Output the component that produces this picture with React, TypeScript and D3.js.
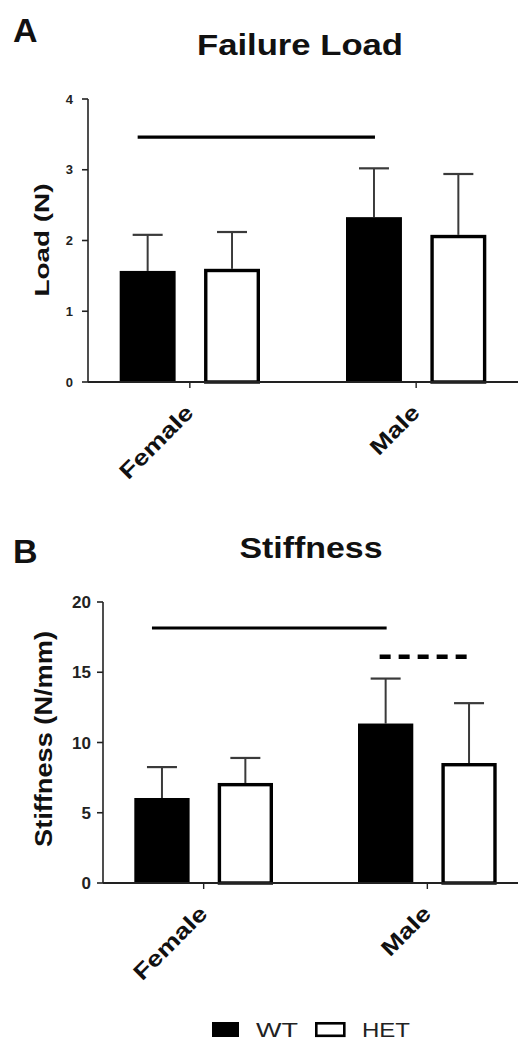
import React from "react";
import * as d3 from "d3";

const groups = ["Female", "Male"];
const series = ["WT", "HET"];

// Panel A: Failure Load (N)
const loadMean = [
  [1.57, 1.6],
  [2.33, 2.08],
];
const loadErr = [
  [0.51, 0.52],
  [0.69, 0.86],
];
const loadTicks = [0, 1, 2, 3, 4];

// Panel B: Stiffness (N/mm)
const stiffMean = [
  [6.05, 7.12],
  [11.35, 8.54],
];
const stiffErr = [
  [2.2, 1.78],
  [3.2, 4.26],
];
const stiffTicks = [0, 5, 10, 15, 20];

// significance bars
const loadSig = [{ g1: 0, s1: 0, g2: 1, s2: 0, v: 3.46, dashed: false }];
const stiffSig = [
  { g1: 0, s1: 0, g2: 1, s2: 0, v: 18.15, dashed: false },
  { g1: 1, s1: 0, g2: 1, s2: 1, v: 16.1, dashed: true },
];

const FONT = "Liberation Sans, Arial, Helvetica, sans-serif";

type PanelProps = {
  letter: string;
  letterY: number;
  title: string;
  titleX: number;
  titleY: number;
  titleSize: number;
  titleLen: number;
  yLabel: string;
  yLabelX: number;
  yLabelY: number;
  yLabelSize: number;
  yLabelLen: number;
  axisX: number;
  xRangeEnd: number;
  top: number;
  bottom: number;
  maxV: number;
  ticks: number[];
  tickSize: number;
  tickLen: number;
  means: number[][];
  errs: number[][];
  sig: { g1: number; s1: number; g2: number; s2: number; v: number; dashed: boolean }[];
  catSize: number;
};

function Panel(p: PanelProps) {
  const x = d3
    .scaleBand<string>()
    .domain(groups)
    .range([p.axisX, p.xRangeEnd])
    .paddingInner(0.38)
    .paddingOuter(0.14);
  const xi = d3
    .scaleBand<string>()
    .domain(series)
    .range([0, x.bandwidth()])
    .paddingInner(0.337)
    .paddingOuter(0);
  const y = d3.scaleLinear().domain([0, p.maxV]).range([p.bottom, p.top]);
  const bw = xi.bandwidth();
  const cx = (g: number, s: number) =>
    (x(groups[g]) as number) + (xi(series[s]) as number) + bw / 2;
  const catLen = { Female: 94, Male: 60 } as Record<string, number>;

  return (
    <g>
      <text x={13} y={p.letterY} fontFamily={FONT} fontWeight="bold" fontSize={34} fill="#111">
        {p.letter}
      </text>
      <text
        x={p.titleX}
        y={p.titleY}
        textAnchor="middle"
        fontFamily={FONT}
        fontWeight="bold"
        fontSize={p.titleSize}
        textLength={p.titleLen}
        lengthAdjust="spacingAndGlyphs"
        fill="#111"
      >
        {p.title}
      </text>
      <text
        transform={`translate(${p.yLabelX},${p.yLabelY}) rotate(-90)`}
        textAnchor="middle"
        fontFamily={FONT}
        fontWeight="bold"
        fontSize={p.yLabelSize}
        textLength={p.yLabelLen}
        lengthAdjust="spacingAndGlyphs"
        fill="#111"
      >
        {p.yLabel}
      </text>
      {/* y axis */}
      <line x1={p.axisX} x2={p.axisX} y1={y(0)} y2={y(p.maxV)} stroke="#222" strokeWidth={1.6} />
      {p.ticks.map((t) => (
        <g key={t}>
          <line x1={p.axisX - 6} x2={p.axisX} y1={y(t)} y2={y(t)} stroke="#222" strokeWidth={1.6} />
          <text
            x={p.axisX - p.tickLen}
            y={y(t)}
            dy="0.36em"
            textAnchor="end"
            fontFamily={FONT}
            fontWeight="bold"
            fontSize={p.tickSize}
            fill="#222"
          >
            {t}
          </text>
        </g>
      ))}
      {/* bars */}
      {groups.map((g, gi) =>
        series.map((s, si) => {
          const x0 = (x(g) as number) + (xi(s) as number);
          const v = p.means[gi][si];
          const e = p.errs[gi][si];
          const c = x0 + bw / 2;
          return (
            <g key={g + s}>
              <line x1={c} x2={c} y1={y(v)} y2={y(v + e)} stroke="#3a3a3a" strokeWidth={2} />
              <line x1={c - 15} x2={c + 15} y1={y(v + e)} y2={y(v + e)} stroke="#3a3a3a" strokeWidth={2.2} />
              {si === 0 ? (
                <rect x={x0} y={y(v)} width={bw} height={y(0) - y(v)} fill="#000" />
              ) : (
                <rect
                  x={x0 + 1.7}
                  y={y(v) + 1.7}
                  width={bw - 3.4}
                  height={y(0) - y(v) - 1.7}
                  fill="#fff"
                  stroke="#000"
                  strokeWidth={3.4}
                />
              )}
            </g>
          );
        })
      )}
      {/* x axis */}
      <line x1={p.axisX} x2={518} y1={y(0)} y2={y(0)} stroke="#222" strokeWidth={2} />
      {groups.map((g) => {
        const c = (x(g) as number) + x.bandwidth() / 2;
        return (
          <g key={g}>
            <line x1={c} x2={c} y1={y(0)} y2={y(0) + 6} stroke="#222" strokeWidth={1.4} />
            <text
              transform={`translate(${c + 5},${y(0) + 32}) rotate(-45)`}
              textAnchor="end"
              fontFamily={FONT}
              fontWeight="bold"
              fontSize={p.catSize}
              textLength={catLen[g]}
              lengthAdjust="spacingAndGlyphs"
              fill="#111"
            >
              {g}
            </text>
          </g>
        );
      })}
      {/* significance */}
      {p.sig.map((s, i) => (
        <line
          key={i}
          x1={cx(s.g1, s.s1) - (s.dashed ? 6 : 10)}
          x2={cx(s.g2, s.s2) + (s.dashed ? 5 : 1)}
          y1={y(s.v)}
          y2={y(s.v)}
          stroke="#000"
          strokeWidth={s.dashed ? 4.5 : 3.2}
          strokeDasharray={s.dashed ? "11,8" : undefined}
        />
      ))}
    </g>
  );
}

export default function App() {
  const legendX = [212, 315];
  const legendTextX = [256, 362];
  const legendLen = [42, 48];
  return (
    <svg
      width={526}
      height={1043}
      style={{ position: "absolute", left: 0, top: 0, background: "#fff" }}
    >
      <rect width={526} height={1043} fill="#fff" />
      <Panel
        letter="A"
        letterY={42}
        title="Failure Load"
        titleX={300}
        titleY={55}
        titleSize={30}
        titleLen={206}
        yLabel="Load (N)"
        yLabelX={49}
        yLabelY={240}
        yLabelSize={21}
        yLabelLen={113}
        axisX={88}
        xRangeEnd={518}
        top={99}
        bottom={382}
        maxV={4}
        ticks={loadTicks}
        tickSize={13}
        tickLen={15}
        means={loadMean}
        errs={loadErr}
        sig={loadSig}
        catSize={22}
      />
      <Panel
        letter="B"
        letterY={563}
        title="Stiffness"
        titleX={311}
        titleY={558}
        titleSize={29}
        titleLen={143}
        yLabel="Stiffness (N/mm)"
        yLabelX={52}
        yLabelY={739}
        yLabelSize={23}
        yLabelLen={216}
        axisX={103}
        xRangeEnd={528}
        top={602}
        bottom={883}
        maxV={20}
        ticks={stiffTicks}
        tickSize={17}
        tickLen={12}
        means={stiffMean}
        errs={stiffErr}
        sig={stiffSig}
        catSize={22}
      />
      {/* legend */}
      {series.map((s, i) => (
        <g key={s}>
          {i === 0 ? (
            <rect x={legendX[i]} y={1022} width={27} height={15} fill="#000" />
          ) : (
            <rect x={legendX[i] + 1.3} y={1023.3} width={28} height={12.5} fill="#fff" stroke="#000" strokeWidth={2.6} />
          )}
          <text
            x={legendTextX[i]}
            y={1037}
            fontFamily={FONT}
            fontSize={20}
            textLength={legendLen[i]}
            lengthAdjust="spacingAndGlyphs"
            fill="#222"
          >
            {s}
          </text>
        </g>
      ))}
    </svg>
  );
}
